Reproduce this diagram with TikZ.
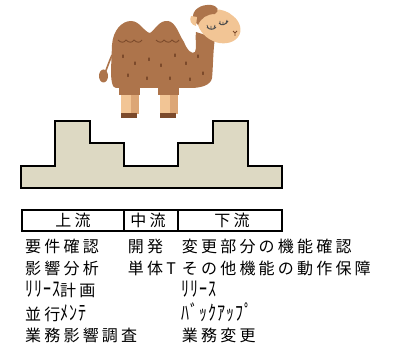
\documentclass[tikz,border=0pt]{standalone}
\usepackage{fontspec}
\usepackage{graphicx}
\setmainfont{Noto Sans CJK JP}[LetterSpace=20]
\usetikzlibrary{positioning}

\definecolor{block}{HTML}{DDD9C3}
\definecolor{fur}{HTML}{AD744B}
\definecolor{furdark}{HTML}{7C4A2B}
\definecolor{skin}{HTML}{F2C595}
\definecolor{skinshade}{HTML}{DCA676}

% narrow kana, stretched a little like the sheet font
\newcommand{\hwkana}[1]{{\addfontfeature{LetterSpace=6}\scalebox{1}[1.3]{#1}}}

\begin{document}
\begin{tikzpicture}[
    x=1pt, y=-1pt,
    entry/.style={
        anchor=base west,
        inner sep=0pt,
        font=\fontsize{16}{18}\selectfont
    },
    colhead/.style={
        inner sep=0pt,
        font=\fontsize{16}{18}\selectfont
    },
    outline/.style={
        draw=black,
        line width=2pt
    },
    spot/.style={
        furdark,
        line width=1.3pt,
        line cap=round
    }
]
\useasboundingbox (0,0) rectangle (394,345);

% camel
\draw[fur, line width=1.6pt] (112,55) .. controls (109,62) and (107,68) .. (105,73);
\fill[fur] (103.5,76) ellipse (4.5 and 6.5);
\fill[skinshade] (130,82) rectangle (139,114);
\fill[skin] (121,82) rectangle (131,114);
\fill[skinshade] (169,82) rectangle (178,114);
\fill[skin] (160,82) rectangle (170,114);
\fill[furdark] (121,113) rectangle (137,118);
\fill[furdark] (160,113) rectangle (176,118);
\fill[fur] (112,45) .. controls (113,30) and (122,21) .. (131,21)
    .. controls (140,21) and (144,32) .. (150,33)
    .. controls (155,30) and (159,20) .. (168,21)
    .. controls (176,22) and (179,35) .. (184,42)
    .. controls (187,50) and (192,55) .. (195,52)
    .. controls (197,48) and (195,40) .. (196,32)
    -- (215,38)
    .. controls (213,50) and (213,70) .. (212,78)
    .. controls (211,85) and (201,88) .. (191,88)
    -- (116,88)
    .. controls (112,88) and (111,80) .. (111,70) -- cycle;
\fill[fur] (119,86) rectangle (140,95);
\fill[fur] (158,86) rectangle (179,95);
\fill[skin] (197,16) .. controls (205,7) and (224,7) .. (233,16)
    .. controls (240,21) and (243,31) .. (238,37)
    .. controls (233,44) and (221,45) .. (213,41)
    .. controls (204,37) and (196,28) .. (197,16) -- cycle;
\fill[fur] (193,20) .. controls (191,9) and (202,4) .. (211,5)
    .. controls (218,6) and (220,11) .. (215,14)
    .. controls (207,14) and (201,18) .. (198,25) -- cycle;
\fill[skin] (191,16) .. controls (189,20) and (191,25) .. (196,26) -- (197,17) -- cycle;
\draw[black!70, line width=1pt] (207,27) .. controls (209,30) and (214,30) .. (216,27);
\draw[black!70, line width=0.7pt] (208,28) -- (207,25) (211,29) -- (211,26) (214,28) -- (215,25);
\draw[black!70, line width=1pt] (219,23) .. controls (221,26) and (226,25) .. (228,21);
\draw[black!70, line width=0.7pt] (220,24) -- (220,21) (223,25) -- (223,22) (226,23) -- (227,20);
\draw[furdark, line width=0.8pt] (233,31) -- (235,33) -- (237,31) (235,33) -- (235,36);
\draw[furdark, line width=0.9pt] (118,40) .. controls (121,43) and (124,43) .. (126,40)
    .. controls (129,43) and (132,43) .. (134,40)
    .. controls (137,43) and (140,43) .. (142,40);
\draw[furdark, line width=0.9pt] (156,40) .. controls (159,43) and (162,43) .. (164,40)
    .. controls (167,43) and (170,43) .. (172,40)
    .. controls (175,43) and (177,43) .. (179,40);
\foreach \sx/\sy in {123/55, 135/62, 149/58, 161/64, 175/54, 186/62, 128/74, 147/77, 170/77, 198/55, 203/72, 190/78}
    \draw[spot] (\sx,\sy) -- (\sx,\sy+2.5);

% stepped block
\filldraw[fill=block, outline] (20.7,188.3) -- (20.7,165.7) -- (55,165.7) -- (55,121.3)
    -- (90,121.3) -- (90,143.3) -- (124.3,143.3) -- (124.3,165.7) -- (178.3,165.7)
    -- (178.3,143.3) -- (212.7,143.3) -- (212.7,121.3) -- (247.7,121.3) -- (247.7,165.7)
    -- (282.3,165.7) -- (282.3,188.3) -- cycle;

% header
\draw[outline] (21.7,209.8) rectangle (282.3,231);
\draw[outline] (124,209.8) -- (124,231);
\draw[outline] (177.7,209.8) -- (177.7,231);
\node[colhead] (up) at (73,220.5) {上流};
\node[colhead] (mid) at (148,220.5) {中流};
\node[colhead] (down) at (232,220.5) {下流};

\node[entry] (up1) at (25,252.5) {要件確認};
\node[entry] (up2) at (25,274.5) {影響分析};
\node[entry] (up3) at (25,296) {\hwkana{ﾘﾘｰｽ}計画};
\node[entry] (up4) at (25,320) {並行\hwkana{ﾒﾝﾃ}};
\node[entry] (up5) at (25,341) {業務影響調査};

\node[entry] (mid1) at (127.7,252.5) {開発};
\node[entry] (mid2) at (127.7,274.5) {単体T};

\node[entry] (down1) at (181.7,252.5) {変更部分の機能確認};
\node[entry] (down2) at (181.7,274.5) {その他機能の動作保障};
\node[entry] (down3) at (181.7,296) {\hwkana{ﾘﾘｰｽ}};
\node[entry] (down4) at (181.7,320) {\hwkana{ﾊﾞｯｸｱｯﾌﾟ}};
\node[entry] (down5) at (181.7,341) {業務変更};

\end{tikzpicture}
\end{document}
